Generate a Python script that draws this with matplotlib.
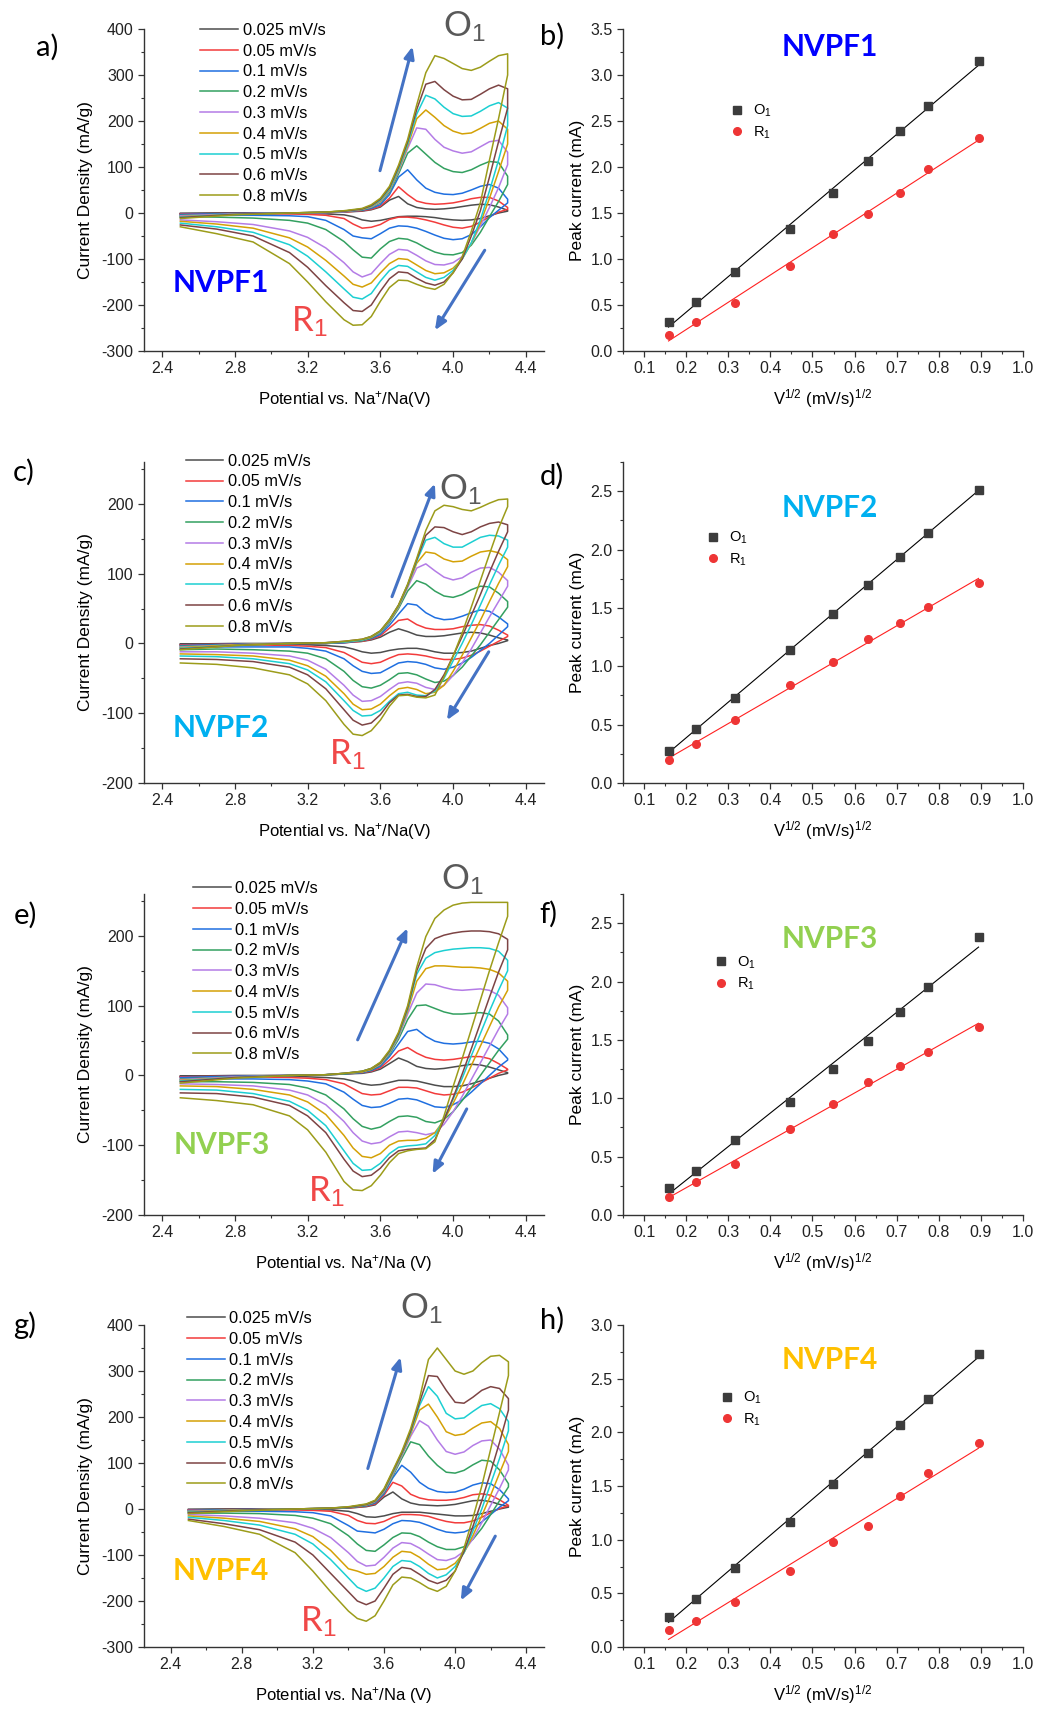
import numpy as np
import matplotlib
matplotlib.use('Agg')
import matplotlib.pyplot as plt
from matplotlib.ticker import MultipleLocator, FormatStrFormatter

plt.rcParams['font.family'] = ['Liberation Sans', 'DejaVu Sans']
plt.rcParams['mathtext.fontset'] = 'custom'
plt.rcParams['mathtext.rm'] = 'Liberation Sans'
plt.rcParams['mathtext.it'] = 'Liberation Sans:italic'
plt.rcParams['mathtext.bf'] = 'Liberation Sans:bold'
plt.rcParams['axes.unicode_minus'] = False

# scan rates (mV/s) and CV line colours
rates = [0.025, 0.05, 0.1, 0.2, 0.3, 0.4, 0.5, 0.6, 0.8]
rate_labels = ['0.025 mV/s', '0.05 mV/s', '0.1 mV/s', '0.2 mV/s', '0.3 mV/s',
               '0.4 mV/s', '0.5 mV/s', '0.6 mV/s', '0.8 mV/s']
cv_colors = ['#4d4d4d', '#f23b3b', '#1f6fe0', '#33a060', '#b47ce6',
             '#d4a106', '#1ccfd2', '#7d4444', '#9c9c1a']

# potentials of the read points: anodic sweep (up) and cathodic sweep (down)
E_an = [2.5, 2.8, 3.1, 3.3, 3.4, 3.5, 3.55, 3.6, 3.65, 3.7, 3.75, 3.8, 3.85, 3.9,
        3.95, 4.0, 4.05, 4.1, 4.15, 4.2, 4.25, 4.3]
E_ca = [4.3, 4.25, 4.2, 4.15, 4.1, 4.05, 4.0, 3.95, 3.9, 3.85, 3.8, 3.75, 3.7, 3.65,
        3.6, 3.55, 3.5, 3.45, 3.4, 3.3, 3.2, 3.1, 2.9, 2.7, 2.5]

# ---- NVPF1 (a) current density, mA/g, one row per scan rate ----
a_an = [
    [-1, 0, 0, 1, 2, 4, 7, 13, 28, 36, 20, 12, 9, 8, 9, 11, 14, 17, 19, 18, 13, 6],
    [-2, -1, 0, 1, 2, 5, 8, 15, 32, 57, 40, 26, 21, 19, 20, 22, 26, 31, 34, 34, 26, 12],
    [-3, -1, 0, 1, 3, 6, 10, 18, 40, 78, 94, 72, 54, 45, 41, 40, 43, 50, 58, 62, 54, 30],
    [-5, -2, 0, 1, 3, 7, 12, 22, 45, 85, 130, 146, 128, 110, 97, 90, 88, 94, 104, 112, 110, 80],
    [-6, -2, 0, 1, 3, 8, 13, 24, 48, 90, 140, 185, 182, 160, 143, 135, 130, 133, 144, 155, 158, 132],
    [-8, -3, 0, 2, 4, 8, 14, 26, 50, 93, 145, 205, 224, 208, 190, 178, 172, 174, 184, 195, 200, 182],
    [-9, -3, 0, 2, 4, 9, 15, 28, 52, 96, 150, 215, 256, 248, 230, 216, 210, 211, 221, 233, 240, 228],
    [-10, -3, 0, 2, 4, 9, 16, 30, 55, 100, 155, 225, 280, 286, 268, 254, 246, 247, 258, 270, 278, 270],
    [-12, -4, 0, 2, 5, 10, 18, 32, 58, 104, 160, 235, 305, 342, 336, 325, 314, 310, 317, 330, 342, 346],
]
a_ca = [
    [4, 0, -6, -12, -15, -16, -15, -13, -10, -8, -7, -7, -8, -12, -16, -18, -15, -8, -4, -2, -1, -1, -1, -1, -1],
    [8, 2, -8, -20, -29, -33, -31, -26, -20, -15, -11, -9, -9, -14, -25, -31, -33, -24, -12, -5, -3, -2, -2, -2, -3],
    [22, 6, -10, -30, -47, -56, -58, -55, -48, -40, -33, -29, -28, -33, -45, -56, -54, -50, -36, -16, -8, -6, -5, -5, -6],
    [62, 25, -8, -42, -70, -86, -91, -90, -85, -76, -65, -57, -55, -62, -78, -98, -96, -80, -62, -36, -22, -16, -11, -9, -8],
    [105, 55, 12, -28, -66, -95, -108, -113, -112, -104, -92, -81, -79, -90, -110, -132, -139, -128, -108, -76, -53, -39, -25, -19, -15],
    [150, 90, 32, -22, -66, -100, -120, -130, -132, -125, -113, -101, -99, -110, -130, -152, -161, -155, -137, -103, -74, -54, -33, -24, -18],
    [190, 115, 48, -15, -65, -100, -125, -140, -146, -140, -128, -116, -114, -125, -148, -175, -187, -183, -165, -128, -94, -69, -42, -30, -22],
    [228, 155, 78, 5, -50, -100, -130, -150, -157, -152, -142, -130, -128, -143, -170, -200, -214, -212, -195, -158, -118, -86, -50, -35, -26],
    [300, 205, 115, 22, -40, -95, -130, -155, -166, -162, -155, -147, -146, -162, -192, -225, -243, -244, -232, -193, -150, -110, -63, -45, -30],
]

# ---- NVPF2 (c) ----
c_an = [
    [-1, 0, 0, 0, 1, 3, 5, 9, 16, 21, 17, 12, 10, 10, 11, 13, 15, 16, 15, 12, 8, 5],
    [-2, -1, 0, 0, 1, 3, 6, 11, 22, 33, 35, 27, 22, 20, 20, 21, 24, 26, 27, 25, 19, 12],
    [-3, -1, 0, 0, 1, 4, 7, 13, 26, 42, 57, 55, 44, 37, 34, 35, 39, 44, 48, 46, 38, 28],
    [-4, -2, 0, 0, 2, 4, 8, 15, 30, 50, 75, 90, 85, 75, 68, 66, 70, 77, 82, 81, 72, 60],
    [-5, -2, 0, 1, 2, 5, 9, 16, 32, 52, 80, 108, 114, 104, 95, 91, 94, 102, 108, 109, 102, 90],
    [-6, -2, 0, 1, 2, 5, 9, 17, 33, 53, 82, 115, 131, 129, 121, 117, 118, 125, 131, 133, 130, 120],
    [-7, -3, 0, 1, 2, 5, 10, 17, 34, 54, 83, 118, 148, 152, 143, 138, 138, 145, 152, 155, 154, 148],
    [-8, -3, 0, 1, 3, 6, 10, 18, 34, 55, 84, 120, 155, 167, 166, 160, 156, 160, 167, 172, 174, 170],
    [-9, -3, 0, 1, 3, 6, 10, 18, 34, 55, 85, 122, 162, 190, 198, 196, 192, 190, 195, 201, 206, 207],
]
c_ca = [
    [4, 0, -3, -7, -11, -13, -14, -14, -12, -9, -7, -7, -8, -10, -13, -14, -12, -8, -5, -3, -2, -1, -1, -1, -1],
    [10, 3, -4, -11, -17, -21, -23, -23, -21, -18, -16, -15, -16, -21, -27, -29, -27, -20, -13, -6, -4, -3, -2, -2, -3],
    [24, 12, 0, -10, -20, -28, -34, -37, -35, -30, -27, -26, -28, -35, -42, -43, -40, -32, -22, -11, -7, -5, -5, -5, -6],
    [52, 34, 16, -2, -18, -34, -46, -54, -56, -51, -45, -42, -43, -52, -60, -64, -62, -53, -40, -22, -14, -11, -9, -8, -9],
    [82, 60, 38, 15, -8, -28, -46, -60, -66, -63, -57, -55, -57, -66, -76, -82, -83, -74, -60, -37, -24, -18, -14, -12, -12],
    [110, 86, 60, 33, 8, -17, -40, -60, -70, -72, -66, -63, -65, -75, -87, -94, -95, -87, -72, -47, -32, -24, -18, -16, -15],
    [138, 112, 84, 55, 27, 0, -25, -50, -68, -75, -74, -70, -72, -83, -96, -103, -104, -96, -82, -55, -38, -29, -22, -19, -18],
    [160, 132, 102, 70, 40, 10, -18, -45, -66, -76, -76, -73, -74, -85, -102, -114, -117, -110, -95, -65, -45, -34, -26, -23, -22],
    [196, 165, 128, 90, 52, 15, -18, -48, -74, -78, -77, -74, -75, -90, -110, -125, -132, -130, -116, -82, -58, -45, -35, -30, -28],
]

# ---- NVPF3 (e) ----
e_an = [
    [-1, 0, 0, 1, 2, 3, 5, 9, 17, 25, 20, 13, 10, 9, 10, 12, 14, 16, 15, 12, 8, 4],
    [-2, -1, 0, 1, 2, 4, 6, 11, 22, 35, 40, 32, 26, 23, 22, 23, 25, 27, 27, 24, 17, 9],
    [-3, -1, 0, 1, 2, 4, 7, 13, 27, 45, 63, 66, 56, 49, 46, 45, 46, 48, 49, 46, 38, 24],
    [-5, -2, 0, 1, 2, 5, 8, 15, 30, 52, 80, 100, 101, 96, 91, 88, 88, 89, 90, 88, 78, 58],
    [-6, -2, 0, 1, 3, 5, 9, 16, 32, 55, 88, 118, 131, 130, 126, 123, 122, 123, 124, 122, 115, 97],
    [-7, -3, 0, 1, 3, 5, 9, 17, 33, 57, 92, 135, 153, 157, 157, 156, 155, 155, 154, 152, 147, 135],
    [-8, -3, 0, 1, 3, 6, 10, 18, 34, 58, 95, 145, 168, 176, 179, 181, 182, 183, 183, 182, 178, 165],
    [-9, -3, 0, 1, 3, 6, 10, 18, 35, 60, 97, 150, 182, 196, 201, 204, 206, 207, 207, 206, 203, 195],
    [-11, -4, 0, 1, 3, 6, 10, 19, 36, 62, 100, 155, 199, 225, 237, 244, 247, 248, 248, 248, 248, 248],
]
e_ca = [
    [3, 0, -4, -8, -12, -15, -16, -16, -14, -11, -8, -7, -7, -10, -13, -14, -12, -8, -5, -3, -2, -1, -1, -1, -1],
    [8, 3, -4, -11, -18, -24, -27, -28, -26, -22, -18, -17, -17, -22, -27, -28, -26, -19, -12, -6, -4, -3, -2, -2, -3],
    [22, 12, 0, -12, -24, -35, -42, -46, -45, -40, -35, -33, -34, -40, -45, -46, -43, -34, -24, -12, -8, -6, -5, -5, -6],
    [52, 36, 18, 0, -18, -36, -52, -63, -68, -66, -60, -58, -59, -66, -74, -77, -73, -62, -48, -28, -18, -13, -10, -9, -9],
    [88, 66, 42, 18, -6, -30, -52, -70, -82, -85, -82, -80, -81, -88, -96, -98, -94, -82, -66, -42, -28, -21, -15, -13, -12],
    [122, 98, 70, 42, 14, -14, -40, -64, -82, -90, -93, -93, -94, -100, -112, -118, -116, -104, -86, -56, -38, -28, -20, -16, -15],
    [150, 122, 92, 60, 28, -4, -34, -62, -86, -98, -100, -101, -103, -112, -126, -135, -136, -126, -108, -72, -50, -37, -26, -21, -20],
    [180, 148, 112, 75, 38, 2, -32, -64, -92, -104, -105, -106, -108, -118, -133, -143, -145, -137, -120, -82, -58, -43, -31, -26, -25],
    [228, 190, 150, 108, 66, 24, -16, -58, -95, -105, -106, -108, -112, -125, -143, -158, -165, -164, -152, -110, -78, -58, -42, -36, -32],
]

# ---- NVPF4 (g) ----
g_an = [
    [-1, 0, 0, 1, 2, 5, 9, 26, 37, 22, 13, 9, 8, 7, 8, 10, 14, 18, 19, 16, 10, 5],
    [-2, -1, 0, 1, 2, 6, 11, 30, 58, 50, 32, 24, 20, 19, 19, 21, 25, 31, 33, 30, 20, 8],
    [-3, -1, 0, 1, 3, 7, 13, 33, 68, 95, 80, 58, 45, 38, 36, 37, 43, 52, 57, 55, 42, 22],
    [-4, -2, 0, 1, 3, 8, 15, 36, 72, 110, 146, 140, 115, 95, 80, 78, 84, 96, 106, 104, 85, 55],
    [-5, -2, 0, 2, 4, 9, 16, 38, 75, 115, 158, 192, 180, 150, 125, 119, 124, 138, 148, 150, 130, 95],
    [-6, -2, 0, 2, 4, 9, 17, 40, 78, 118, 163, 215, 228, 200, 168, 160, 163, 176, 187, 190, 175, 140],
    [-7, -3, 0, 2, 4, 10, 18, 41, 80, 120, 167, 225, 266, 245, 208, 196, 198, 212, 225, 229, 218, 190],
    [-8, -3, 0, 2, 4, 10, 18, 42, 82, 122, 170, 232, 290, 288, 258, 232, 230, 243, 258, 266, 262, 240],
    [-10, -4, 0, 2, 5, 11, 19, 44, 84, 125, 175, 240, 325, 350, 325, 300, 293, 300, 318, 332, 334, 320],
]
g_ca = [
    [4, 0, -5, -10, -14, -15, -15, -13, -11, -9, -7, -7, -7, -10, -15, -18, -17, -10, -5, -2, -1, -1, -1, -1, -1],
    [7, 1, -8, -18, -26, -30, -30, -27, -22, -16, -13, -12, -12, -18, -27, -32, -31, -25, -14, -5, -3, -2, -2, -2, -3],
    [18, 4, -12, -28, -42, -50, -52, -50, -44, -36, -29, -26, -25, -32, -44, -52, -50, -48, -36, -15, -8, -6, -5, -5, -6],
    [48, 18, -12, -42, -66, -82, -88, -88, -82, -72, -60, -53, -52, -62, -78, -92, -90, -76, -58, -32, -20, -14, -10, -9, -9],
    [85, 45, 8, -30, -65, -92, -106, -112, -110, -98, -85, -75, -73, -85, -105, -122, -124, -114, -95, -62, -42, -30, -20, -15, -12],
    [125, 78, 30, -15, -58, -95, -118, -130, -132, -120, -105, -94, -92, -105, -125, -140, -142, -135, -130, -90, -60, -43, -27, -20, -15],
    [170, 110, 55, 0, -48, -95, -125, -143, -150, -140, -125, -114, -112, -125, -150, -172, -179, -170, -150, -110, -76, -55, -35, -25, -18],
    [215, 145, 80, 18, -38, -92, -135, -155, -162, -155, -142, -130, -127, -142, -172, -200, -208, -200, -180, -140, -100, -72, -45, -32, -22],
    [290, 210, 130, 50, -20, -85, -135, -168, -179, -172, -160, -150, -148, -165, -200, -232, -244, -238, -222, -180, -135, -95, -55, -38, -25],
]

# ---- peak currents (mA) vs sqrt(scan rate) ----
o1_b = [0.31, 0.53, 0.86, 1.33, 1.72, 2.06, 2.39, 2.66, 3.15]
r1_b = [0.17, 0.32, 0.52, 0.92, 1.27, 1.49, 1.72, 1.98, 2.31]
o1_d = [0.27, 0.46, 0.73, 1.14, 1.45, 1.70, 1.94, 2.14, 2.51]
r1_d = [0.20, 0.33, 0.54, 0.84, 1.04, 1.23, 1.37, 1.51, 1.71]
o1_f = [0.23, 0.38, 0.64, 0.97, 1.25, 1.49, 1.74, 1.95, 2.38]
r1_f = [0.15, 0.28, 0.44, 0.74, 0.95, 1.14, 1.28, 1.40, 1.61]
o1_h = [0.28, 0.45, 0.74, 1.16, 1.52, 1.81, 2.07, 2.31, 2.73]
r1_h = [0.16, 0.24, 0.42, 0.71, 0.98, 1.13, 1.41, 1.62, 1.90]

names = ['NVPF1', 'NVPF2', 'NVPF3', 'NVPF4']
name_colors = ['#0000ff', '#00b0f0', '#92d050', '#ffc000']

W, H = 1038, 1709
fig = plt.figure(figsize=(W / 100, H / 100), dpi=100)
fig.patch.set_facecolor('white')

rows = [(29, 351), (462, 783), (894, 1215), (1325, 1647)]
arrow_blue = '#4472c4'


def px_axes(left, top, bottom, width=400):
    return fig.add_axes([left / W, 1 - bottom / H, width / W, (bottom - top) / H])


def style(ax):
    for s in ['top', 'right']:
        ax.spines[s].set_visible(False)
    for s in ['left', 'bottom']:
        ax.spines[s].set_linewidth(1.0)
        ax.spines[s].set_color('#333333')
    ax.tick_params(which='major', direction='out', length=4, width=0.9, labelsize=11.5,
                   colors='#333333', labelcolor='#222222')
    ax.tick_params(which='minor', direction='out', length=2.5, width=0.8, colors='#333333')


def cv_panel(row, an, ca, xlim, ylim, xlabel, name, name_xy, leg_xy, arrows, o1_xy, r1_xy):
    top, bot = rows[row]
    ax = px_axes(144, top, bot)
    for i in range(len(rates)):
        ax.plot(E_an + E_ca, an[i] + ca[i], color=cv_colors[i], lw=1.1, label=rate_labels[i])
    ax.set_xlim(*xlim)
    ax.set_ylim(*ylim)
    ax.xaxis.set_minor_locator(MultipleLocator(0.2))
    ax.xaxis.set_major_formatter(FormatStrFormatter('%.1f'))
    ax.set_xticks(np.arange(2.4, 4.41, 0.4))
    ax.yaxis.set_major_locator(MultipleLocator(100))
    ax.yaxis.set_minor_locator(MultipleLocator(50))
    style(ax)
    ax.set_xlabel(xlabel, fontsize=12, labelpad=9)
    ax.set_ylabel('Current Density (mA/g)', fontsize=12.5, labelpad=6)
    ax.legend(loc='upper left', bbox_to_anchor=leg_xy, frameon=False, fontsize=11.8,
              handlelength=2.3, handletextpad=0.27, labelspacing=0.35,
              borderpad=0, borderaxespad=0)
    for tail, head in arrows:
        ax.annotate('', xy=head, xytext=tail,
                    arrowprops=dict(arrowstyle='-|>,head_length=0.7,head_width=0.3',
                                    color=arrow_blue, lw=2.2, shrinkA=0, shrinkB=0))
    ax.text(o1_xy[0], o1_xy[1], 'O$_1$', fontsize=25, family='Lato', color='#595959',
            ha='center', va='center', clip_on=False)
    ax.text(r1_xy[0], r1_xy[1], 'R$_1$', fontsize=25, family='Lato', color='#f04848',
            ha='center', va='center', clip_on=False)
    ax.text(name_xy[0], name_xy[1], name, fontsize=21.5, fontweight='bold',
            family='Lato', color=name_colors[row], ha='center', va='center')
    return ax


def peak_panel(row, o1, r1, ylim, name, name_y, leg_xy):
    top, bot = rows[row]
    ax = px_axes(623, top, bot)
    sq = np.sqrt(rates)
    for y, c, lc, m, lab in [(o1, '#3c3c3c', 'black', 's', 'O$_1$'),
                             (r1, '#ee3535', '#ff2020', 'o', 'R$_1$')]:
        k, b = np.polyfit(sq, y, 1)
        ax.plot([sq[0], sq[-1]], [k * sq[0] + b, k * sq[-1] + b], color=lc, lw=0.8, zorder=2)
        ax.plot(sq, y, ls='none', marker=m, ms=5.5, color=c, label=lab, zorder=3)
    ax.set_xlim(0.05, 1.0)
    ax.set_ylim(*ylim)
    ax.xaxis.set_minor_locator(MultipleLocator(0.05))
    ax.xaxis.set_major_formatter(FormatStrFormatter('%.1f'))
    ax.set_xticks(np.arange(0.1, 1.01, 0.1))
    ax.yaxis.set_major_locator(MultipleLocator(0.5))
    ax.yaxis.set_minor_locator(MultipleLocator(0.25))
    ax.yaxis.set_major_formatter(FormatStrFormatter('%.1f'))
    style(ax)
    ax.set_xlabel('V$^{1/2}$ (mV/s)$^{1/2}$', fontsize=12, labelpad=8)
    ax.set_ylabel('Peak current (mA)', fontsize=12.5, labelpad=4)
    ax.legend(loc='upper left', bbox_to_anchor=leg_xy, frameon=False, fontsize=10.5,
              handlelength=1.0, handletextpad=0.6, labelspacing=0.35,
              borderpad=0, borderaxespad=0)
    ax.text(0.5175, name_y, name, transform=ax.transAxes, fontsize=21.5, fontweight='bold',
            family='Lato', color=name_colors[row], ha='center', va='center')
    return ax


xl1 = 'Potential vs. Na$^{+}$/Na(V)'
xl2 = 'Potential vs. Na$^{+}$/Na (V)'

cv_panel(0, a_an, a_ca, (2.3, 4.5), (-300, 400), xl1, 'NVPF1', (2.725, -153), (0.141, 1.019),
         [((3.598, 92), (3.777, 362)), ((4.174, -81), (3.90, -255))],
         (4.06, 406), (3.21, -237))
cv_panel(1, c_an, c_ca, (2.3, 4.5), (-200, 260), xl1, 'NVPF2', (2.725, -121), (0.104, 1.026),
         [((3.664, 67), (3.90, 229)), ((4.196, -12), (3.966, -110))],
         (4.04, 221), (3.419, -160))
cv_panel(2, e_an, e_ca, (2.3, 4.5), (-200, 260), xl2, 'NVPF3', (2.725, -100), (0.1227, 1.04),
         [((3.475, 51), (3.749, 211)), ((4.075, -48), (3.887, -141))],
         (4.05, 280), (3.302, -167))
cv_panel(3, g_an, g_ca, (2.25, 4.5), (-300, 400), xl2, 'NVPF4', (2.681, -135), (0.108, 1.043),
         [((3.509, 88), (3.693, 330)), ((4.226, -59), (4.032, -199))],
         (3.81, 435), (3.229, -244))

peak_panel(0, o1_b, r1_b, (0, 3.5), 'NVPF1', 0.944, (0.2675, 0.77))
peak_panel(1, o1_d, r1_d, (0, 2.75), 'NVPF2', 0.857, (0.2075, 0.788))
peak_panel(2, o1_f, r1_f, (0, 2.75), 'NVPF3', 0.86, (0.2275, 0.8125))
peak_panel(3, o1_h, r1_h, (0, 3.0), 'NVPF4', 0.89, (0.2425, 0.798))

for lab, x, y in [('a)', 47, 47), ('b)', 552, 36), ('c)', 24, 472), ('d)', 552, 476),
                  ('e)', 25, 915), ('f)', 548, 914), ('g)', 25, 1325), ('h)', 552, 1320)]:
    fig.text(x / W, 1 - y / H, lab, fontsize=21, family='Lato', ha='center', va='center')

fig.savefig('out.png', dpi=100, facecolor='white')
